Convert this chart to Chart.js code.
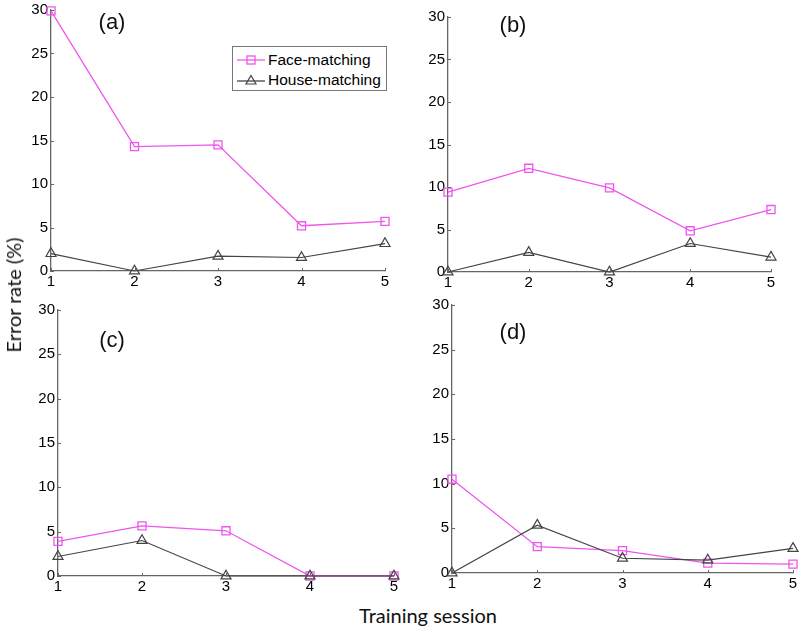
<!DOCTYPE html>
<html><head><meta charset="utf-8">
<script src="https://cdn.jsdelivr.net/npm/chart.js@4/dist/chart.umd.min.js"></script>
<style>
html,body{margin:0;padding:0;background:#fff;}
#wrap{position:relative;width:800px;height:630px;overflow:hidden;}
canvas{position:absolute;}
.plab{position:absolute;font-family:"Liberation Sans",Arial,sans-serif;font-size:22px;color:#111;line-height:1;transform:translate(-50%,-50%);}
.axt{position:absolute;font-family:Lato,"Open Sans",sans-serif;font-size:20px;color:#111;white-space:nowrap;line-height:1;}
#legend{position:absolute;left:232px;top:46px;width:155px;height:45px;border:1px solid #777;background:#fff;font-family:"Liberation Sans",Arial,sans-serif;font-size:15.5px;color:#000;box-sizing:border-box;}
#legend .row{position:absolute;left:4px;height:20px;display:flex;align-items:center;}
#legend svg{margin-right:3px;}
</style></head>
<body><div id="wrap">
<canvas id="ca"></canvas><canvas id="cb"></canvas><canvas id="cc"></canvas><canvas id="cd"></canvas>
<div class="plab" style="left:112px;top:22px">(a)</div>
<div class="plab" style="left:513px;top:25px">(b)</div>
<div class="plab" style="left:112px;top:340px">(c)</div>
<div class="plab" style="left:513px;top:332px">(d)</div>
<div class="axt" style="left:13px;top:295px;transform:translate(-50%,-50%) rotate(-90deg);">Error rate (%)</div>
<div class="axt" style="left:428px;top:615px;transform:translate(-50%,-50%);">Training session</div>
<div id="legend">
 <div class="row" style="top:3px"><svg width="28" height="12"><line x1="0" y1="6" x2="28" y2="6" stroke="#ee55ee" stroke-width="1.3"/><rect x="10" y="2" width="8" height="8" fill="none" stroke="#ee55ee" stroke-width="1.3"/></svg><span id="lg0"></span></div>
 <div class="row" style="top:23px"><svg width="28" height="12"><line x1="0" y1="7" x2="28" y2="7" stroke="#444" stroke-width="1.3"/><polygon points="14,1.5 19,10 9,10" fill="none" stroke="#444" stroke-width="1.2"/></svg><span id="lg1"></span></div>
</div>
</div>
<script>
const sessions = [1, 2, 3, 4, 5];
const yTicks = [0, 5, 10, 15, 20, 25, 30];
const seriesNames = ['Face-matching', 'House-matching'];
const faceA = [29.9, 14.3, 14.5, 5.2, 5.7];
const houseA = [2.0, 0, 1.7, 1.55, 3.15];
const faceB = [9.4, 12.2, 9.9, 4.85, 7.35];
const houseB = [0, 2.3, 0, 3.35, 1.75];
const faceC = [3.9, 5.65, 5.1, 0, 0];
const houseC = [2.2, 4.0, 0, 0, 0];
const faceD = [10.5, 2.95, 2.5, 1.1, 1.0];
const houseD = [0, 5.35, 1.65, 1.45, 2.75];

document.getElementById('lg0').textContent = seriesNames[0];
document.getElementById('lg1').textContent = seriesNames[1];

const FACE = '#ee55ee', HOUSE = '#444444', AX = '#666666';
const PADL = 45, PADT = 12, PADR = 12, PADB = 24;
const TICKFONT = { family: '"Liberation Sans", Arial, sans-serif', size: 15 };

const innerTicks = {
  id: 'innerTicks',
  afterDraw(chart) {
    const ctx = chart.ctx, xs = chart.scales.x, ys = chart.scales.y, a = chart.chartArea;
    ctx.save(); ctx.strokeStyle = AX; ctx.lineWidth = 1;
    ctx.beginPath();
    yTicks.forEach(v => { const y = Math.round(ys.getPixelForValue(v)) + 0.5; ctx.moveTo(a.left, y); ctx.lineTo(a.left + 3, y); });
    sessions.forEach(v => { const x = Math.round(xs.getPixelForValue(v)) + 0.5; ctx.moveTo(x, a.bottom); ctx.lineTo(x, a.bottom - 3); });
    ctx.stroke(); ctx.restore();
  }
};

function makeChart(id, area, face, house) {
  const [l, t, r, b] = area;
  const cv = document.getElementById(id);
  const w = (r - l) + PADL + PADR, h = (b - t) + PADT + PADB;
  cv.style.left = (l - PADL) + 'px'; cv.style.top = (t - PADT) + 'px';
  cv.width = w; cv.height = h; cv.style.width = w + 'px'; cv.style.height = h + 'px';
  const mk = (arr) => arr.map((v, i) => ({ x: sessions[i], y: v }));
  new Chart(cv, {
    type: 'line',
    data: {
      datasets: [
        { label: seriesNames[0], data: mk(face), borderColor: FACE, backgroundColor: 'rgba(255,255,255,0)', borderWidth: 1.3,
          pointStyle: 'rect', pointRadius: 5.7, pointBorderWidth: 1.3, pointBorderColor: FACE, pointBackgroundColor: 'rgba(255,255,255,0)', order: 1, clip: false, tension: 0 },
        { label: seriesNames[1], data: mk(house), borderColor: HOUSE, backgroundColor: 'rgba(255,255,255,0)', borderWidth: 1.2,
          pointStyle: 'triangle', pointRadius: 5.8, pointBorderWidth: 1.2, pointBorderColor: HOUSE, pointBackgroundColor: 'rgba(255,255,255,0)', order: 0, clip: false, tension: 0 }
      ]
    },
    options: {
      responsive: false, animation: false, devicePixelRatio: 1,
      layout: { padding: { left: 0, top: PADT, right: PADR, bottom: 0 } },
      plugins: { legend: { display: false }, tooltip: { enabled: false } },
      scales: {
        x: {
          type: 'linear', min: 1, max: 5,
          afterBuildTicks: (s) => { s.ticks = sessions.map(v => ({ value: v })); },
          afterFit: (s) => { s.height = PADB; },
          grid: { display: false, drawTicks: false },
          border: { display: true, color: AX, width: 1.3 },
          ticks: { color: '#000', font: TICKFONT, padding: 2, maxRotation: 0 }
        },
        y: {
          min: 0, max: 30,
          afterBuildTicks: (s) => { s.ticks = yTicks.map(v => ({ value: v })); },
          afterFit: (s) => { s.width = PADL; },
          grid: { display: false, drawTicks: false },
          border: { display: true, color: AX, width: 1.3 },
          ticks: { color: '#000', font: TICKFONT, padding: 3 }
        }
      }
    },
    plugins: [innerTicks]
  });
}

makeChart('ca', [51, 10, 385, 271], faceA, houseA);
makeChart('cb', [448, 17, 771, 272], faceB, houseB);
makeChart('cc', [58, 310, 394, 576], faceC, houseC);
makeChart('cd', [452, 305, 793, 573], faceD, houseD);
</script>
</body></html>
